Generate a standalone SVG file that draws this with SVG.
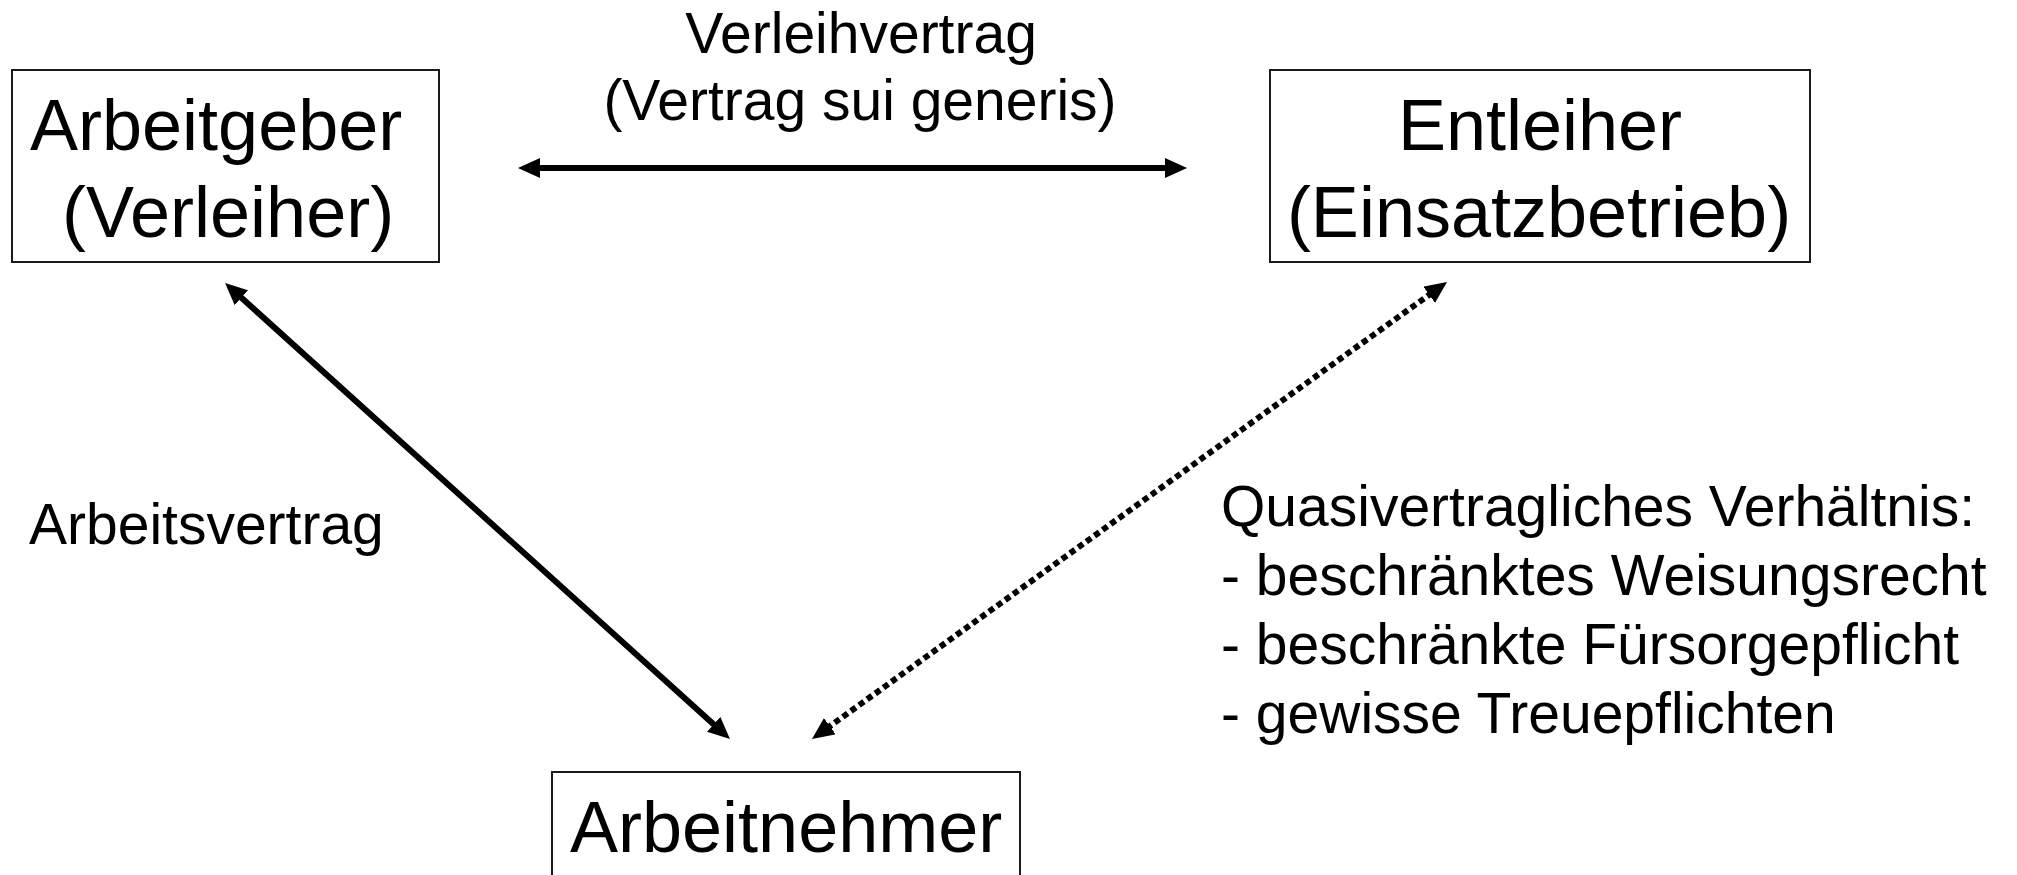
<svg xmlns="http://www.w3.org/2000/svg" width="2017" height="875" viewBox="0 0 2017 875">
  <style>
    .box { fill: #ffffff; stroke: #1a1a1a; stroke-width: 2; }
    .big { font-family: "Liberation Sans", Arial, sans-serif; font-size: 72px; fill: #000; }
    .lbl { font-family: "Liberation Sans", Arial, sans-serif; font-size: 57px; fill: #000; }
    .conn { fill: none; stroke: #000; stroke-width: 6; }
    .dotted { stroke-dasharray: 6 4; }
  </style>
  <defs>
    <marker id="head" viewBox="0 0 22 20" refX="4" refY="10" markerWidth="22" markerHeight="20" markerUnits="userSpaceOnUse" orient="auto-start-reverse">
      <path d="M0,0 L22,10 L0,20 Z" fill="#000"/>
    </marker>
  </defs>

  <rect width="2017" height="875" fill="#ffffff"/>

  <!-- nodes -->
  <g id="arbeitgeber">
    <rect class="box" x="12" y="70" width="427" height="192"/>
    <text class="big" x="30" y="150">Arbeitgeber</text>
    <text class="big" x="62" y="237">(Verleiher)</text>
  </g>

  <g id="entleiher">
    <rect class="box" x="1270" y="70" width="540" height="192"/>
    <text class="big" x="1540" y="150" text-anchor="middle">Entleiher</text>
    <text class="big" x="1539" y="237" text-anchor="middle">(Einsatzbetrieb)</text>
  </g>

  <g id="arbeitnehmer">
    <rect class="box" x="552" y="772" width="468" height="140"/>
    <text class="big" x="570" y="852">Arbeitnehmer</text>
  </g>

  <!-- connectors: line ends sit 18px short of each arrow tip -->
  <g id="connectors">
    <line id="verleihvertrag" class="conn" x1="536" y1="168" x2="1169" y2="168" marker-start="url(#head)" marker-end="url(#head)"/>
    <line id="arbeitsvertrag" class="conn" x1="238.4" y1="295" x2="716.6" y2="727" marker-start="url(#head)" marker-end="url(#head)"/>
    <line id="quasivertrag" class="conn dotted" x1="826.6" y1="728.5" x2="1432.4" y2="292.5" marker-start="url(#head)" marker-end="url(#head)"/>
  </g>

  <!-- connector labels -->
  <g id="labels">
    <text class="lbl" x="861" y="53" text-anchor="middle">Verleihvertrag</text>
    <text class="lbl" x="860" y="120" text-anchor="middle">(Vertrag sui generis)</text>
    <text class="lbl" x="29" y="544">Arbeitsvertrag</text>
    <text class="lbl" x="1221" y="526">Quasivertragliches Verhältnis:</text>
    <text class="lbl" x="1221" y="595">- beschränktes Weisungsrecht</text>
    <text class="lbl" x="1221" y="664">- beschränkte Fürsorgepflicht</text>
    <text class="lbl" x="1221" y="733">- gewisse Treuepflichten</text>
  </g>
</svg>
